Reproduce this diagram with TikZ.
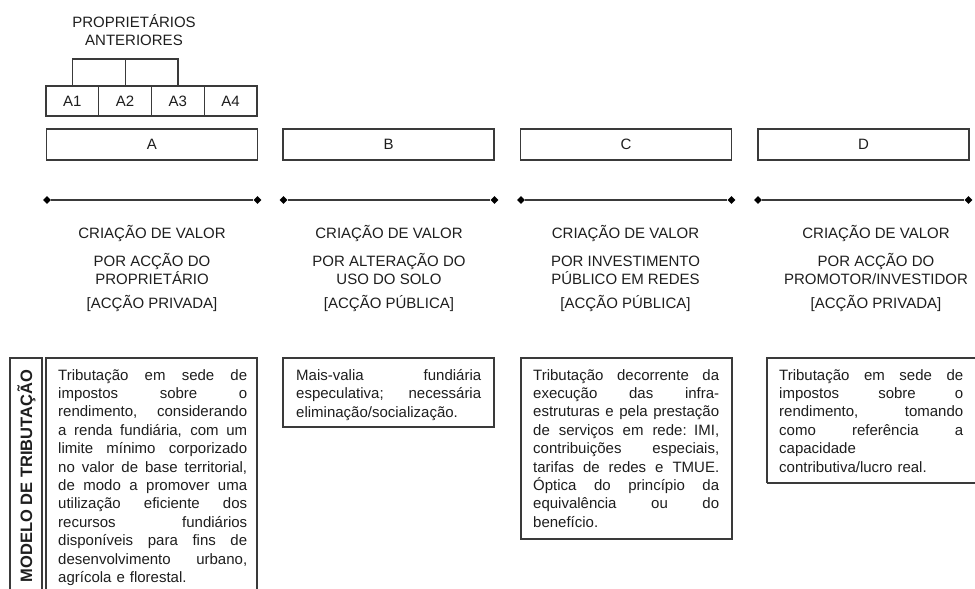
\documentclass[tikz,border=0pt]{standalone}
\usepackage{fontspec}
\setmainfont{Liberation Sans}
\usetikzlibrary{shapes.geometric}
\definecolor{ln}{HTML}{3A3A3A}
\definecolor{tx}{HTML}{1E1E1E}
\newcommand\jl[1]{\leavevmode\hbox to \hsize{\spaceskip=0.28em plus 3em\relax #1}\\}
\newcommand\fq{\fontsize{15}{18.4}\selectfont}
\tikzset{
  box/.style={draw=ln, line width=1.2pt},
  cell/.style={draw=ln, line width=1.2pt, minimum height=30pt, inner sep=0pt, font=\fq, text=tx},
  ttl/.style={font=\fq, text=tx, anchor=base, inner sep=0pt},
  body/.style={font=\fq, text=tx, anchor=north west, inner sep=0pt, align=left, text width=#1},
  dia/.style={diamond, fill=black, inner sep=0pt, minimum width=8pt, minimum height=8pt},
  seg/.style={draw=ln, line width=1.3pt},
}
\begin{document}
\begin{tikzpicture}[x=1pt,y=-1pt]
\useasboundingbox[fill=white] (0,0) rectangle (975,589);
% top title
\node[ttl] (pa1) at (134,27.3) {PROPRIETÁRIOS};
\node[ttl] (pa2) at (134,45.7) {ANTERIORES};
% A1..A4 cells
\node[cell, minimum width=52.75pt] (a1) at (72.4,101) {A1};
\node[cell, minimum width=52.75pt] (a2) at (125.1,101) {A2};
\node[cell, minimum width=52.75pt] (a3) at (177.9,101) {A3};
\node[cell, minimum width=52.75pt] (a4) at (230.6,101) {A4};
\coordinate (bt) at (125.1,59);
\draw[seg, line width=1.2pt] (a1.north) |- (bt) -| (a3.north);
\draw[seg, line width=1.2pt] (a2.north) -- (bt);
% column boxes
\node[cell, minimum width=211pt, minimum height=31pt] (A) at (152,144.5) {A};
\node[cell, minimum width=211pt, minimum height=31pt] (B) at (388.5,144.5) {B};
\node[cell, minimum width=211pt, minimum height=31pt] (C) at (626,144.5) {C};
\node[cell, minimum width=211pt, minimum height=31pt] (D) at (863.5,144.5) {D};
% diamond lines
\node[dia] (la) at (47,200) {}; \node[dia] (ra) at (257.5,200) {};
\node[dia] (lb) at (283.5,200) {}; \node[dia] (rb) at (494.5,200) {};
\node[dia] (lc) at (521,200) {}; \node[dia] (rc) at (731.5,200) {};
\node[dia] (ld) at (758,200) {}; \node[dia] (rd) at (968.5,200) {};
\draw[seg] (la) -- (ra);
\draw[seg] (lb) -- (rb);
\draw[seg] (lc) -- (rc);
\draw[seg] (ld) -- (rd);
% column titles
\node[ttl] (ta1) at (152,238) {CRIAÇÃO DE VALOR};
\node[ttl] (ta2) at (152,266) {POR ACÇÃO DO};
\node[ttl] (ta3) at (152,284) {PROPRIETÁRIO};
\node[ttl] (ta4) at (152,308) {[ACÇÃO PRIVADA]};
\node[ttl] (tb1) at (389,238) {CRIAÇÃO DE VALOR};
\node[ttl] (tb2) at (389,266) {POR ALTERAÇÃO DO};
\node[ttl] (tb3) at (389,284) {USO DO SOLO};
\node[ttl] (tb4) at (389,308) {[ACÇÃO PÚBLICA]};
\node[ttl] (tc1) at (625.5,238) {CRIAÇÃO DE VALOR};
\node[ttl] (tc2) at (625.5,266) {POR INVESTIMENTO};
\node[ttl] (tc3) at (625.5,284) {PÚBLICO EM REDES};
\node[ttl] (tc4) at (625.5,308) {[ACÇÃO PÚBLICA]};
\node[ttl] (td1) at (876,238) {CRIAÇÃO DE VALOR};
\node[ttl] (td2) at (876,266) {POR ACÇÃO DO};
\node[ttl] (td3) at (876,284) {PROMOTOR/INVESTIDOR};
\node[ttl] (td4) at (876,308) {[ACÇÃO PRIVADA]};
% bottom boxes
\draw[box] (10,600) |- (42,358) -- (42,600);
\node[font=\fontsize{16.5}{18}\selectfont\bfseries, text=tx, rotate=90, inner sep=0pt] (mt) at (26.5,476) {MODELO DE TRIBUTAÇÃO};
\draw[box] (46,600) |- (257,358) -- (257,600);
\draw[box] (283,358) rectangle (494,427);
\draw[box] (521,358) rectangle (732,539);
\draw[box] (767,483) |- (977,358);
\draw[box] (767,483) -- (977,483);
\node[body=189pt] (xa) at (58,369) {\jl{Tributação em sede de}\jl{impostos sobre o}\jl{rendimento, considerando}\jl{a renda fundiária, com um}\jl{limite mínimo corporizado}\jl{no valor de base territorial,}\jl{de modo a promover uma}\jl{utilização eficiente dos}\jl{recursos fundiários}\jl{disponíveis para fins de}\jl{desenvolvimento urbano,}agrícola e florestal.};
\node[body=185pt] (xb) at (296,369) {\jl{Mais-valia fundiária}\jl{especulativa; necessária}eliminação/socialização.};
\node[body=186pt] (xc) at (533,369) {\jl{Tributação decorrente da}\jl{execução das infra-}\jl{estruturas e pela prestação}\jl{de serviços em rede: IMI,}\jl{contribuições especiais,}\jl{tarifas de redes e TMUE.}\jl{Óptica do princípio da}\jl{equivalência ou do}benefício.};
\node[body=184pt] (xd) at (779,369) {\jl{Tributação em sede de}\jl{impostos sobre o}\jl{rendimento, tomando}\jl{como referência a}capacidade\\contributiva/lucro real.};
\end{tikzpicture}
\end{document}
